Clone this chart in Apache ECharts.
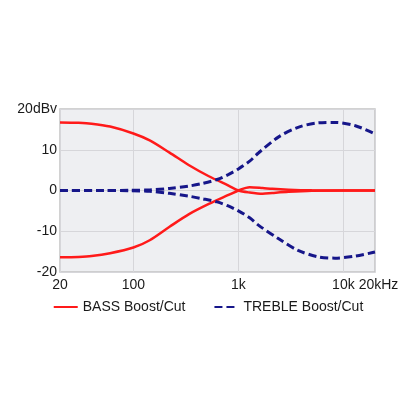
<!DOCTYPE html>
<html>
<head>
<meta charset="utf-8">
<script src="https://cdn.jsdelivr.net/npm/echarts@6/dist/echarts.min.js"></script>
<style>
  html, body { margin: 0; padding: 0; background: #fff; }
  #chart { width: 416px; height: 416px; }
</style>
</head>
<body>
<div id="chart"></div>
<script>
  // frequencies in Hz, levels in dBV
  const bassFreq = [20, 30, 40, 60, 100, 143, 221, 339, 523, 805, 1000, 1280, 1700, 2100, 3000, 5000, 10000, 20000];
  const bassBoost = [16.7, 16.6, 16.4, 15.7, 14.0, 12.3, 9.3, 6.2, 3.5, 1.2, 0, -0.5, -0.8, -0.6, -0.3, -0.05, 0, 0];
  const bassCut = [-16.4, -16.3, -16.1, -15.4, -14.0, -12.2, -8.9, -5.8, -3.3, -1.1, 0, 0.8, 0.6, 0.4, 0.2, 0.05, 0, 0];

  const trebleFreq = [20, 50, 93, 143, 220, 339, 450, 627, 800, 1000, 1280, 1550, 2400, 3700, 5800, 8300, 13000, 20000];
  const trebleBoost = [0, 0, 0.05, 0.15, 0.5, 1.1, 1.7, 2.7, 3.9, 5.3, 7.2, 9.2, 13.1, 15.5, 16.6, 16.7, 15.9, 13.9];
  const trebleCut = [0, 0, -0.05, -0.2, -0.7, -1.4, -2.0, -2.8, -3.8, -5.0, -6.7, -8.5, -11.8, -14.7, -16.3, -16.6, -16.1, -15.1];

  const xTickLabels = { 20: '20', 100: '100', 1000: '1k', 10000: '10k', 20000: '{r|20kHz}' };
  const seriesNames = ['BASS Boost/Cut', 'TREBLE Boost/Cut'];

  const red = '#ff1a1a';
  const navy = '#16168a';

  function pairs(xs, ys) {
    return xs.map((x, i) => [x, ys[i]]);
  }

  const chart = echarts.init(document.getElementById('chart'));

  const bassLine = { color: red, width: 2.5, type: 'solid' };
  const trebleLine = { color: navy, width: 3, type: [8, 4] };

  function lineSeries(name, color, lineStyle, data) {
    return {
      name: name,
      type: 'line',
      smooth: 0.3,
      showSymbol: false,
      symbol: 'none',
      color: color,
      lineStyle: lineStyle,
      data: data
    };
  }

  chart.setOption({
    animation: false,
    textStyle: { fontFamily: 'Liberation Sans, Arial, sans-serif' },
    grid: {
      left: 60,
      right: 41,
      top: 109,
      bottom: 144,
      show: true,
      backgroundColor: '#eeeff2',
      borderColor: '#c4c4c4',
      borderWidth: 1.5
    },
    legend: {
      bottom: 97,
      left: 'center',
      itemWidth: 24,
      itemHeight: 12,
      itemGap: 28,
      itemStyle: { opacity: 0 },
      textStyle: { fontSize: 14, color: '#1a1a1a' },
      data: seriesNames
    },
    xAxis: {
      type: 'log',
      logBase: 10,
      min: 20,
      max: 20000,
      axisLine: { show: false },
      axisTick: { show: false },
      splitLine: { show: true, lineStyle: { color: '#d6d6da', width: 1 } },
      axisLabel: {
        fontSize: 14,
        color: '#1a1a1a',
        margin: 6,
        showMinLabel: true,
        showMaxLabel: true,
        rich: { r: { fontSize: 14, color: '#1a1a1a', padding: [0, 0, 0, 7] } },
        formatter: function (v) {
          const key = Math.round(v);
          return xTickLabels[key] !== undefined ? xTickLabels[key] : '';
        }
      }
    },
    yAxis: {
      type: 'value',
      min: -20,
      max: 20,
      interval: 10,
      axisLine: { show: false },
      axisTick: { show: false },
      splitLine: { show: true, lineStyle: { color: '#d6d6da', width: 1 } },
      axisLabel: {
        fontSize: 14,
        color: '#1a1a1a',
        margin: 3,
        formatter: function (v) {
          return v === 20 ? '20dBv' : String(v);
        }
      }
    },
    series: [
      lineSeries(seriesNames[0], red, bassLine, pairs(bassFreq, bassBoost)),
      lineSeries(seriesNames[0], red, bassLine, pairs(bassFreq, bassCut)),
      lineSeries(seriesNames[1], navy, trebleLine, pairs(trebleFreq, trebleBoost)),
      lineSeries(seriesNames[1], navy, trebleLine, pairs(trebleFreq, trebleCut))
    ]
  });
</script>
</body>
</html>
